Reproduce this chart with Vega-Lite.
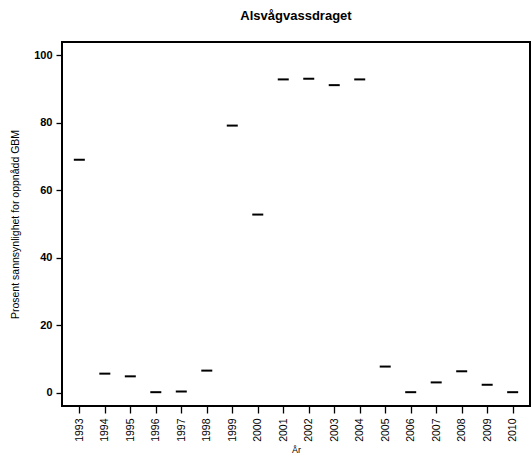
{
  "$schema": "https://vega.github.io/schema/vega-lite/v6.json",
  "width": 468,
  "height": 364,
  "autosize": {"type": "none"},
  "padding": {"left": 62, "top": 42, "right": 1, "bottom": 55},
  "background": "white",
  "title": {
    "text": "Alsvågvassdraget",
    "font": "Liberation Sans",
    "fontSize": 13,
    "fontWeight": "bold",
    "color": "black",
    "offset": 19,
    "anchor": "middle"
  },
  "config": {
    "view": {"stroke": "black", "strokeWidth": 2},
    "axis": {
      "domain": false,
      "grid": false,
      "tickColor": "black",
      "tickWidth": 1.3,
      "labelColor": "black",
      "titleColor": "black",
      "labelFont": "Liberation Sans",
      "titleFont": "Liberation Sans"
    }
  },
  "data": {
    "values": [
      {"year": 1993, "pct": 69.1},
      {"year": 1994, "pct": 5.6},
      {"year": 1995, "pct": 4.8},
      {"year": 1996, "pct": 0.1},
      {"year": 1997, "pct": 0.3},
      {"year": 1998, "pct": 6.5},
      {"year": 1999, "pct": 79.2},
      {"year": 2000, "pct": 52.8},
      {"year": 2001, "pct": 92.9},
      {"year": 2002, "pct": 93.1},
      {"year": 2003, "pct": 91.2},
      {"year": 2004, "pct": 92.9},
      {"year": 2005, "pct": 7.7},
      {"year": 2006, "pct": 0.1},
      {"year": 2007, "pct": 3.0},
      {"year": 2008, "pct": 6.3},
      {"year": 2009, "pct": 2.3},
      {"year": 2010, "pct": 0.1}
    ]
  },
  "mark": {"type": "tick", "orient": "horizontal", "size": 11, "thickness": 2, "color": "black", "opacity": 1},
  "encoding": {
    "x": {
      "field": "year",
      "type": "quantitative",
      "scale": {"domain": [1992.32, 2010.68], "nice": false, "zero": false},
      "axis": {
        "values": [1993,1994,1995,1996,1997,1998,1999,2000,2001,2002,2003,2004,2005,2006,2007,2008,2009,2010],
        "format": "d",
        "labelAngle": -90,
        "labelFontSize": 10.5,
        "labelPadding": 5,
        "tickSize": 7,
        "labelFlush": false,
        "labelOverlap": false,
        "title": "År",
        "titleFontSize": 9,
        "titleFontWeight": "normal",
        "titlePadding": 4
      }
    },
    "y": {
      "field": "pct",
      "type": "quantitative",
      "scale": {"domain": [-4, 104], "nice": false, "zero": false},
      "axis": {
        "values": [0, 20, 40, 60, 80, 100],
        "labelFontSize": 11,
        "labelFontWeight": "bold",
        "labelPadding": 4,
        "tickSize": 6,
        "labelFlush": false,
        "title": "Prosent sannsynlighet for oppnådd GBM",
        "titleFontSize": 10.5,
        "titleFontWeight": "normal",
        "titleX": -47,
        "titleBaseline": "middle"
      }
    }
  }
}
